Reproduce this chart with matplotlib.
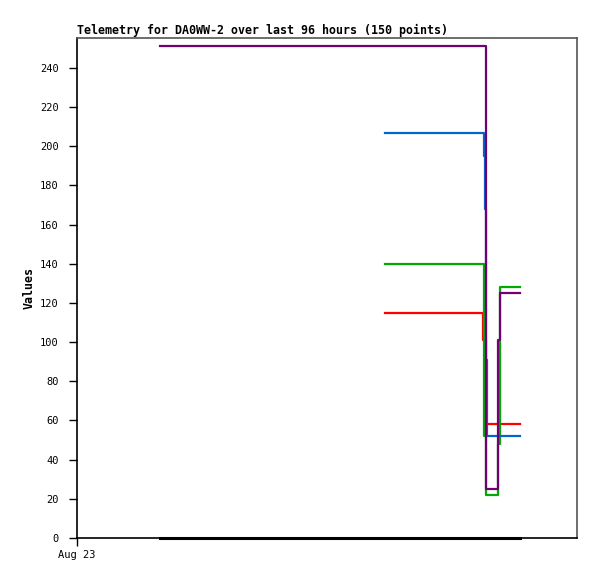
#!/usr/bin/env python3
# -*- coding: utf-8 -*-

import matplotlib
matplotlib.use('Agg')
import matplotlib.pyplot as plt

# hours since Aug 23 00:00 and values (step series)
purple_t = [16.6, 81.8, 84.2, 84.6, 88.6]
purple_v = [251, 25, 101, 125, 125]

blue_t = [61.6, 81.4, 81.5, 81.7, 82.0, 88.6]
blue_v = [207, 195, 168, 91, 52, 52]

red_t = [61.6, 81.2, 81.8, 88.6]
red_v = [115, 101, 58, 58]

green_t = [61.6, 81.4, 81.8, 84.2, 84.5, 88.6]
green_v = [140, 52, 22, 48, 128, 128]

black_t = [16.6, 88.6]
black_v = [0, 0]

y_ticks = list(range(0, 241, 20))
x_ticks = [0]
x_tick_labels = ['Aug 23']

title = "Telemetry for DA0WW-2 over last 96 hours (150 points)"

plt.rcParams['font.family'] = ['DejaVu Sans Mono']

fig = plt.figure(figsize=(5.97, 5.79), dpi=100)
ax = fig.add_axes([77/597, 41/579, 500/597, 500/579])

lw = 1.6
ax.step(black_t, black_v, where='post', color='black', lw=2.2, clip_on=False)
ax.step(red_t, red_v, where='post', color='#ff0000', lw=lw)
ax.step(green_t, green_v, where='post', color='#00aa00', lw=lw)
ax.step(blue_t, blue_v, where='post', color='#0066cc', lw=lw)
ax.step(purple_t, purple_v, where='post', color='#720072', lw=lw)

ax.set_xlim(0, 100)
ax.set_ylim(0, 255.3)
ax.set_yticks(y_ticks)
ax.set_xticks(x_ticks)
ax.set_xticklabels(x_tick_labels)
ax.tick_params(labelsize=7.5, length=6, width=1, direction='out', pad=7)
ax.tick_params(axis='x', pad=3)

for s in ['left', 'bottom']:
    ax.spines[s].set_color('black')
    ax.spines[s].set_linewidth(1.2)
for s in ['top', 'right']:
    ax.spines[s].set_color('#555555')
    ax.spines[s].set_linewidth(1.2)

ax.set_title(title, loc='left', fontsize=8.4, fontweight='bold', pad=3)
ax.set_ylabel("Values", fontsize=8.4, fontweight='bold', labelpad=3)

fig.savefig('out.png', dpi=100)
